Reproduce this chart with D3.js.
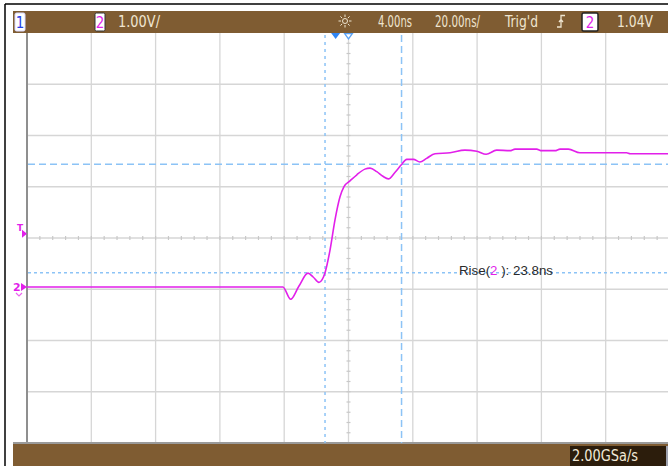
<!DOCTYPE html>
<html><head><meta charset="utf-8">
<script src="https://cdn.jsdelivr.net/npm/d3@7"></script>
<style>
html,body{margin:0;padding:0;background:#fff;}
svg{display:block;}
.nar{font-family:"Liberation Sans Narrow","DejaVu Sans Condensed","Arial Narrow",sans-serif;}
</style>
</head><body>
<svg id="c" width="668" height="466"></svg>
<script>
// ---- data (time in ns, volts) ----
const traceTime = [-96,-16.4,-14.0,-11.4,-8.6,-7.0,-5.2,-4.25,-3.3,-1.75,-0.2,1.36,2.6,4.47,6.6,9.1,10.7,12.8,14.7,16.4,18.5,20.5,22.1,24.2,26.2,28.3,30.9,35.6,40.2,43.9,46.8,50.1,54.2,55.8,62.5,64.1,68.2,69.8,72.4,76.0,90.5,91.6,104];
const traceVolt = [0,0,-0.24,0.02,0.27,0.195,0.09,0.14,0.28,0.72,1.31,1.76,1.96,2.07,2.19,2.30,2.32,2.25,2.16,2.11,2.24,2.39,2.49,2.49,2.44,2.51,2.60,2.62,2.67,2.65,2.59,2.67,2.66,2.69,2.69,2.66,2.66,2.69,2.69,2.62,2.62,2.60,2.60];
const cursorTimes = [-3.3, 20.5];      // ns
const cursorVolts = [2.394, 0.279];   // V
const triggerLevel = 1.04;            // V
const timeDiv = 20, voltDiv = 1.0, hOffset = 4, vCenter = 0.956;
const nTimeDiv = 10, nVoltDiv = 8;
const topLabels = ["1.00V/","4.00ns","20.00ns/","Trig'd","1.04V"];
const sampleRate = "2.00GSa/s";
const riseLabel = ["Rise(","2"," ): 23.8ns"];

const svg = d3.select("#c");
const brown = "#7f5c32", cream = "#efe5d0", gridC = "#d6d6d6", blue = "#8cc3f6", mag = "#e21fea";

const x = d3.scaleLinear().domain([hOffset - timeDiv*nTimeDiv/2, hOffset + timeDiv*nTimeDiv/2]).range([27, 670]);
const y = d3.scaleLinear().domain([vCenter - voltDiv*nVoltDiv/2, vCenter + voltDiv*nVoltDiv/2]).range([443, 33]);

// outer frame
svg.append("line").attr("x1",5).attr("x2",668).attr("y1",4).attr("y2",4).attr("stroke","#000").attr("stroke-width",1.5);
svg.append("line").attr("x1",5).attr("x2",5).attr("y1",4).attr("y2",466).attr("stroke","#000").attr("stroke-width",1.5);

// grid
const g = svg.append("g");
const tGrid = d3.range(nTimeDiv+1).map(i => x.domain()[0] + i*timeDiv);
const vGrid = d3.range(nVoltDiv+1).map(i => y.domain()[0] + i*voltDiv);
g.selectAll(".vg").data(tGrid.slice(1)).join("line")
  .attr("x1",d=>x(d)).attr("x2",d=>x(d)).attr("y1",33).attr("y2",443)
  .attr("stroke",gridC).attr("stroke-width",1.3);
g.selectAll(".hg").data(vGrid.slice(1,-1)).join("line")
  .attr("x1",27).attr("x2",668).attr("y1",d=>y(d)).attr("y2",d=>y(d))
  .attr("stroke",gridC).attr("stroke-width",1.3);
// minor ticks on center lines
const tMinor = d3.range(nTimeDiv*5+1).map(i => x.domain()[0] + i*timeDiv/5);
g.selectAll(".tm").data(tMinor).join("line")
  .attr("x1",d=>x(d)).attr("x2",d=>x(d)).attr("y1",y(vCenter)-2).attr("y2",y(vCenter)+2)
  .attr("stroke","#c8c8c8").attr("stroke-width",1.2);
const vMinor = d3.range(nVoltDiv*5+1).map(i => y.domain()[0] + i*voltDiv/5);
g.selectAll(".vm").data(vMinor).join("line")
  .attr("x1",x(hOffset)-2).attr("x2",x(hOffset)+2).attr("y1",d=>y(d)).attr("y2",d=>y(d))
  .attr("stroke","#c8c8c8").attr("stroke-width",1.2);
// left axis and bottom line
g.append("line").attr("x1",27).attr("x2",27).attr("y1",33).attr("y2",443).attr("stroke","#8f8f8f").attr("stroke-width",2);
g.append("line").attr("x1",13).attr("x2",668).attr("y1",443).attr("y2",443).attr("stroke","#9a9a9a").attr("stroke-width",2);

// cursors
svg.append("line").attr("x1",x(cursorTimes[0])).attr("x2",x(cursorTimes[0])).attr("y1",35).attr("y2",443)
  .attr("stroke",blue).attr("stroke-width",1.5).attr("stroke-dasharray","3,4");
svg.append("line").attr("x1",x(cursorTimes[1])).attr("x2",x(cursorTimes[1])).attr("y1",35).attr("y2",443)
  .attr("stroke",blue).attr("stroke-width",1.5).attr("stroke-dasharray","7,4");
svg.append("line").attr("x1",28).attr("x2",668).attr("y1",y(cursorVolts[0])).attr("y2",y(cursorVolts[0]))
  .attr("stroke",blue).attr("stroke-width",1.5).attr("stroke-dasharray","7,4");
svg.append("line").attr("x1",28).attr("x2",668).attr("y1",y(cursorVolts[1])).attr("y2",y(cursorVolts[1]))
  .attr("stroke",blue).attr("stroke-width",1.5).attr("stroke-dasharray","3,3");

// trace
const pts = traceTime.map((t,i)=>[t,traceVolt[i]]);
svg.append("path").datum(pts)
  .attr("d", d3.line().x(d=>x(d[0])).y(d=>y(d[1])).curve(d3.curveMonotoneX))
  .attr("fill","none").attr("stroke",mag).attr("stroke-width",1.6);

// rise measurement
const rt = svg.append("text").attr("x",459).attr("y",275).attr("font-family","Liberation Sans, Arial, sans-serif")
  .attr("font-size",13).attr("fill","#2a2a2a").attr("textLength",94).attr("lengthAdjust","spacingAndGlyphs");
rt.append("tspan").text(riseLabel[0]);
rt.append("tspan").attr("fill",mag).text(riseLabel[1]);
rt.append("tspan").text(riseLabel[2]);

// left markers
svg.append("text").attr("x",17).attr("y",231).attr("font-family","DejaVu Sans, sans-serif").attr("font-weight","bold")
  .attr("font-size",9).attr("fill",mag).text("T");
svg.append("path").attr("d",`M22,${y(triggerLevel)-4} L27,${y(triggerLevel)} L22,${y(triggerLevel)+4}Z`).attr("fill",mag);
svg.append("text").attr("x",13).attr("y",y(0)+4).attr("font-family","DejaVu Sans, sans-serif").attr("font-weight","bold")
  .attr("font-size",11).attr("fill",mag).text("2");
svg.append("path").attr("d",`M21,${y(0)-4} L27,${y(0)} L21,${y(0)+4}Z`).attr("fill",mag);
svg.append("path").attr("d",`M16,${y(0)+6} L19,${y(0)+9} L22,${y(0)+6}`).attr("fill","none").attr("stroke",mag).attr("stroke-width",1.2).attr("opacity",0.7);

// top trigger markers
const tp = x(0), cp = x(hOffset);
svg.append("path").attr("d",`M${tp-4.5},33 L${tp+4.5},33 L${tp},39Z`).attr("fill","#2f86f5");
svg.append("path").attr("d",`M${cp-4},33.5 L${cp+4},33.5 L${cp},39Z`).attr("fill","#fff").attr("stroke","#5aa2f5").attr("stroke-width",1.3);

// top bar
svg.append("rect").attr("x",13).attr("y",11).attr("width",655).attr("height",22).attr("fill",brown);
// bottom bar
svg.append("rect").attr("x",13).attr("y",444).attr("width",655).attr("height",22).attr("fill",brown);

// channel boxes
function chBox(cx, label, col, stroke){
  svg.append("rect").attr("x",cx).attr("y",13).attr("width",10).attr("height",18).attr("rx",1.5)
    .attr("fill","#fff").attr("stroke",stroke).attr("stroke-width",1);
  svg.append("text").attr("class","nar").attr("x",cx+5).attr("y",28).attr("text-anchor","middle")
    .attr("font-size",15).attr("fill",col).text(label);
}
chBox(15,"1","#2340e8","#d8d8ff");
chBox(95,"2",mag,"#333");
function topText(xx, w, s){
  svg.append("text").attr("class","nar").attr("x",xx).attr("y",27).attr("font-size",15.5)
    .attr("fill",cream).attr("textLength",w).attr("lengthAdjust","spacingAndGlyphs").text(s);
}
topText(118,42,topLabels[0]);
topText(378,34,topLabels[1]);
topText(435,45,topLabels[2]);
topText(505,33,topLabels[3]);
topText(617,36,topLabels[4]);
// right "2" box
svg.append("rect").attr("x",582).attr("y",13).attr("width",16).attr("height",18).attr("rx",1.5)
  .attr("fill","#fff").attr("stroke","#222").attr("stroke-width",1.5);
svg.append("text").attr("class","nar").attr("x",590).attr("y",28).attr("text-anchor","middle")
  .attr("font-size",15).attr("fill",mag).text("2");
// falling edge icon
svg.append("path").attr("d","M565,15.5 H561 V27 H557 M559,22 L561,19.5 L563,22").attr("fill","none").attr("stroke",cream).attr("stroke-width",1.3);
// sun icon
const sun = svg.append("g").attr("transform","translate(345,21)");
sun.append("circle").attr("r",2.5).attr("fill","none").attr("stroke",cream).attr("stroke-width",1);
d3.range(8).forEach(i=>{const a=i*Math.PI/4;
  sun.append("line").attr("x1",4*Math.cos(a)).attr("y1",4*Math.sin(a)).attr("x2",6.5*Math.cos(a)).attr("y2",6.5*Math.sin(a))
   .attr("stroke",cream).attr("stroke-width",1);});

// sample rate box
svg.append("rect").attr("x",570).attr("y",446).attr("width",96).attr("height",20).attr("fill","#2c1d0c");
svg.append("line").attr("x1",667).attr("x2",667).attr("y1",446).attr("y2",466).attr("stroke","#a8b8d8").attr("stroke-width",1.5);
svg.append("text").attr("class","nar").attr("x",572).attr("y",461).attr("font-size",15)
  .attr("fill","#f2ead8").attr("textLength",66).attr("lengthAdjust","spacingAndGlyphs").text(sampleRate);
</script>
</body></html>
